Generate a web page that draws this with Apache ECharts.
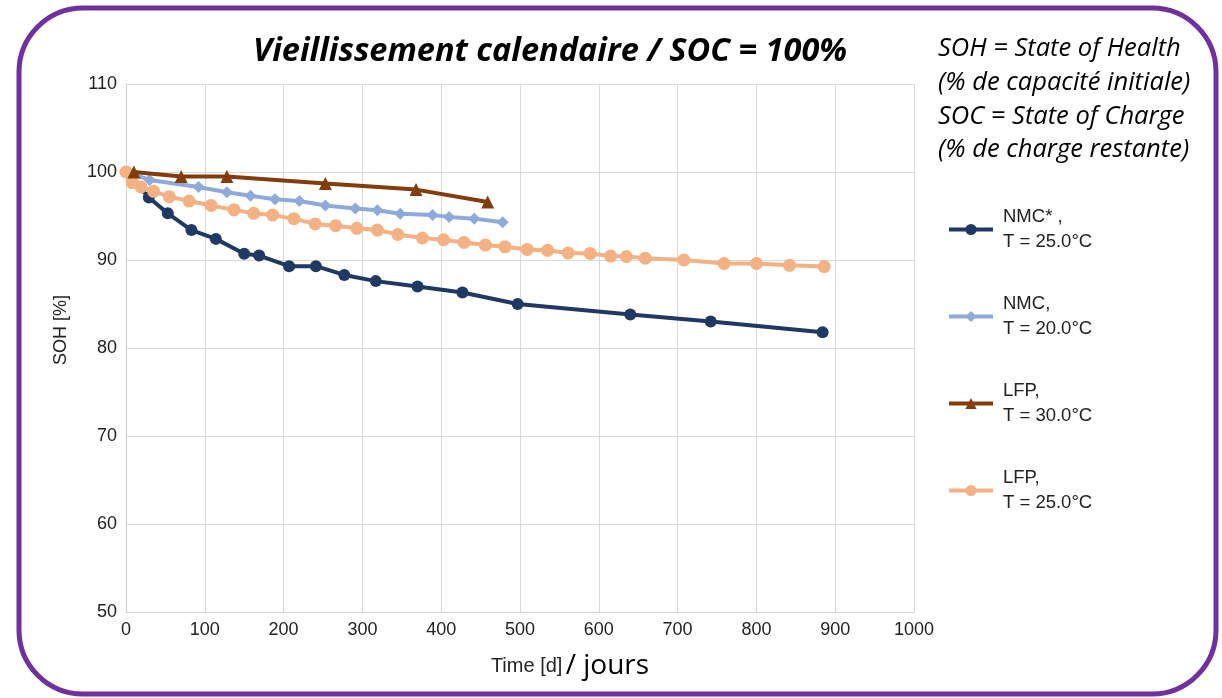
<!DOCTYPE html>
<html>
<head>
<meta charset="utf-8">
<script src="https://cdn.jsdelivr.net/npm/echarts@6/dist/echarts.min.js"></script>
<style>
html,body{margin:0;padding:0;background:#fff;}
#chart{width:1222px;height:698px;}
</style>
</head>
<body>
<div id="chart"></div>
<script>
// ---- Data ----
const seriesNames = ['NMC* ,\nT = 25.0°C', 'NMC,\nT = 20.0°C', 'LFP,\nT = 30.0°C', 'LFP,\nT = 25.0°C'];

const nmcStarDays = [0, 29, 53, 83, 114, 150, 169, 207, 241, 277, 317, 370, 427, 497, 640, 742, 884];
const nmcStarSoh  = [100, 97.1, 95.3, 93.4, 92.4, 90.7, 90.5, 89.3, 89.3, 88.3, 87.6, 87.0, 86.3, 85.0, 83.8, 83.0, 81.8];

const nmcDays = [0, 30, 92, 128, 158, 189, 220, 253, 291, 319, 348, 389, 410, 442, 478];
const nmcSoh  = [100, 99.1, 98.3, 97.7, 97.3, 96.9, 96.7, 96.2, 95.85, 95.65, 95.25, 95.1, 94.9, 94.7, 94.3];

const lfp30Days = [10, 70, 128, 253, 368, 459];
const lfp30Soh  = [100.0, 99.5, 99.5, 98.7, 98.0, 96.6];

const lfp25Days = [0, 8, 19, 35, 55, 80, 108, 137, 162, 186, 213, 240, 266, 293, 319, 345, 376, 403, 429, 456, 481, 509, 535, 561, 589, 615, 635, 659, 708, 759, 800, 842, 886];
const lfp25Soh  = [100, 98.8, 98.3, 97.8, 97.2, 96.7, 96.2, 95.7, 95.3, 95.1, 94.7, 94.1, 93.9, 93.6, 93.4, 92.9, 92.5, 92.3, 92.0, 91.7, 91.5, 91.2, 91.1, 90.8, 90.75, 90.45, 90.4, 90.2, 90.0, 89.6, 89.6, 89.4, 89.25];

const xTicks = {min: 0, max: 1000, interval: 100};
const yTicks = {min: 50, max: 110, interval: 10};

const titleText = 'Vieillissement calendaire / SOC = 100%';
const noteText = 'SOH = State of Health\n(% de capacité initiale)\nSOC = State of Charge\n(% de charge restante)';

// ---- Build ----
function pairs(xs, ys){ return xs.map((x,i)=>[x, ys[i]]); }

const colors = ['#1f3864', '#8eaadb', '#843c0c', '#f4b183'];
const baseFont = 'Liberation Sans, Arial, sans-serif';

const chart = echarts.init(document.getElementById('chart'), null, {renderer: 'canvas'});

const option = {
  backgroundColor: '#ffffff',
  animation: false,
  color: colors,
  title: [
    {
      text: titleText,
      left: 248, top: 30,
      textStyle: {fontFamily: 'Open Sans', fontStyle: 'italic', fontWeight: 'bold', fontSize: 32.5, color: '#000'}
    },
    {
      text: noteText,
      left: 933, top: 27,
      textStyle: {fontFamily: 'Open Sans', fontStyle: 'italic', fontWeight: 'normal', fontSize: 25.5, lineHeight: 33.7, color: '#000'}
    }
  ],
  legend: {
    orient: 'vertical',
    left: 942, top: 187,
    itemWidth: 44, itemHeight: 14,
    itemGap: 12,
    data: seriesNames,
    lineStyle: {width: 4},
    textStyle: {fontFamily: baseFont, fontSize: 18.5, lineHeight: 25, color: '#222', padding: [25, 0, 0, 5]}
  },
  grid: {left: 126, right: 308, top: 84, bottom: 86, containLabel: false},
  xAxis: {
    type: 'value',
    min: xTicks.min, max: xTicks.max, interval: xTicks.interval,
    name: '{a|Time [d]} {b|/ jours}',
    nameLocation: 'middle',
    nameGap: 40,
    nameTextStyle: {
      padding: [0, 0, 0, 100],
      rich: {
        a: {fontFamily: baseFont, fontSize: 20, color: '#222'},
        b: {fontFamily: 'Open Sans', fontSize: 28, color: '#000'}
      }
    },
    axisLine: {show: true, lineStyle: {color: '#cfcfcf', width: 1}},
    axisTick: {show: false},
    axisLabel: {fontFamily: baseFont, fontSize: 18, color: '#222', margin: 9, formatter: v => String(v)},
    splitLine: {show: true, lineStyle: {color: '#d9d9d9', width: 1}}
  },
  yAxis: {
    type: 'value',
    min: yTicks.min, max: yTicks.max, interval: yTicks.interval,
    name: 'SOH [%]',
    nameLocation: 'middle',
    nameGap: 56,
    nameTextStyle: {fontFamily: baseFont, fontSize: 18, color: '#222', padding: [0, 0, 0, 36]},
    axisLine: {show: true, lineStyle: {color: '#cfcfcf', width: 1}},
    axisTick: {show: false},
    axisLabel: {fontFamily: baseFont, fontSize: 18, color: '#222', margin: 9},
    splitLine: {show: true, lineStyle: {color: '#d9d9d9', width: 1}}
  },
  series: [
    {name: seriesNames[0], type: 'line', data: pairs(nmcStarDays, nmcStarSoh), symbol: 'circle', symbolSize: 12, lineStyle: {width: 4}, z: 4},
    {name: seriesNames[1], type: 'line', data: pairs(nmcDays, nmcSoh), symbol: 'diamond', symbolSize: 12, lineStyle: {width: 4}, z: 3},
    {name: seriesNames[2], type: 'line', data: pairs(lfp30Days, lfp30Soh), symbol: 'triangle', symbolSize: 13, lineStyle: {width: 4}, z: 6},
    {name: seriesNames[3], type: 'line', data: pairs(lfp25Days, lfp25Soh), symbol: 'circle', symbolSize: 13, lineStyle: {width: 4}, z: 5}
  ],
  graphic: [
    {
      type: 'rect',
      shape: {x: 19, y: 8, width: 1197, height: 686, r: 64},
      style: {fill: 'none', stroke: '#7030a0', lineWidth: 5},
      silent: true, z: 100
    }
  ]
};
chart.setOption(option);
</script>
</body>
</html>
